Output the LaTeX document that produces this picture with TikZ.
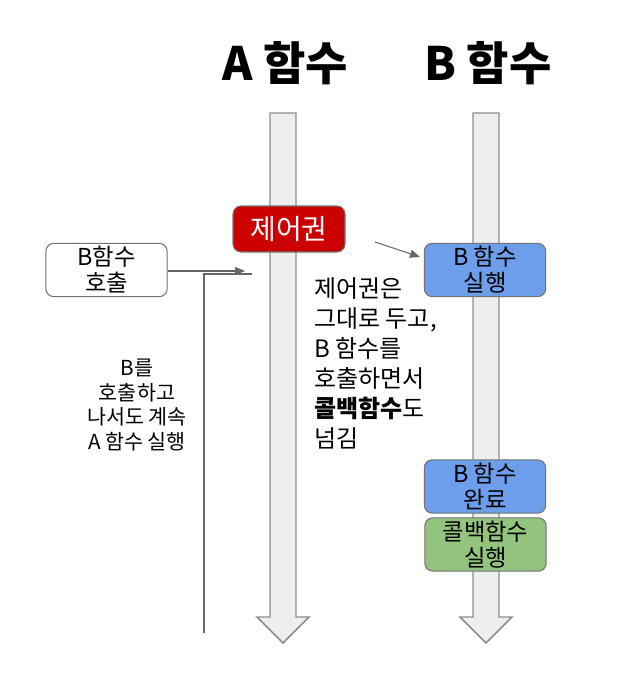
\documentclass[tikz,border=0pt]{standalone}
\usepackage{fontspec}
\setmainfont{Noto Sans CJK KR}
\usetikzlibrary{positioning, arrows.meta}

\definecolor{ctrlred}{HTML}{CC0000}
\definecolor{runblue}{HTML}{6D9EEB}
\definecolor{cbgreen}{HTML}{93C47D}
\definecolor{flowgray}{HTML}{EEEEEE}

\begin{document}
\begin{tikzpicture}[
    x=0.75pt, y=-0.75pt,
    title/.style={font=\fontsize{34.5}{40}\selectfont\bfseries, anchor=base},
    box/.style={draw=black!55, line width=0.8pt, rounded corners=6pt,
        align=center, inner sep=0pt, minimum width=91pt, minimum height=40pt,
        font=\fontsize{17.5}{19.5}\selectfont},
    note/.style={align=left, inner sep=0pt, font=\fontsize{18}{22.5}\selectfont},
    conn/.style={draw=black!60, line width=0.8pt,
        -{Triangle[length=7.5pt, width=6pt]}}
]
\useasboundingbox (0,0) rectangle (633,684);

% Titles
\node[title] (titleA) at (285,81) {A 함수};
\node[title] (titleB) at (488,81) {B 함수};

% Flow arrows of A and B
\foreach \x in {283, 486} {
    \filldraw[fill=flowgray, draw=black!45, line width=1.1pt, line join=miter]
        (\x-13,113) -- (\x+13,113) -- (\x+13,617) -- (\x+26,617)
        -- (\x,643) -- (\x-26,617) -- (\x-13,617) -- cycle;
}

% Boxes on the A side
\node[box, fill=ctrlred, text=white, minimum width=84pt, minimum height=34.5pt,
    font=\fontsize{21}{22}\selectfont] (ctrl) at (289,229) {제어권};
\node[box, fill=white] (callB) at (106.5,270) {B함수\\호출};

% Boxes on the B side
\node[box, fill=runblue] (runB) at (485,270) {B 함수\\실행};
\node[box, fill=runblue] (doneB) at (485,486.5) {B 함수\\완료};
\node[box, fill=cbgreen] (runCb) at (485.5,544.5) {콜백함수\\실행};

% Texts
\node[note, anchor=north west] (handOver) at (314,277)
    {제어권은\\그대로 두고,\\B 함수를\\호출하면서\\\textbf{콜백함수}도\\넘김};
\node[align=center, inner sep=0pt, font=\fontsize{15.5}{18.4}\selectfont]
    (keepA) at (137,405) {B를\\호출하고\\나서도 계속\\A 함수 실행};

% Connectors
\coordinate (callTip) at (245,271);
\coordinate (keepBot) at (204,633);
\coordinate (keepEnd) at (252,274);
\coordinate (ctrlOut) at (375,242);
\coordinate (runIn) at (420,257);

\draw[draw=black!60, line width=0.8pt] (keepBot) |- (keepEnd);
\draw[conn] (callB.east |- callTip) -- (callTip);
\draw[conn] (ctrlOut) -- (runIn);

\end{tikzpicture}
\end{document}
